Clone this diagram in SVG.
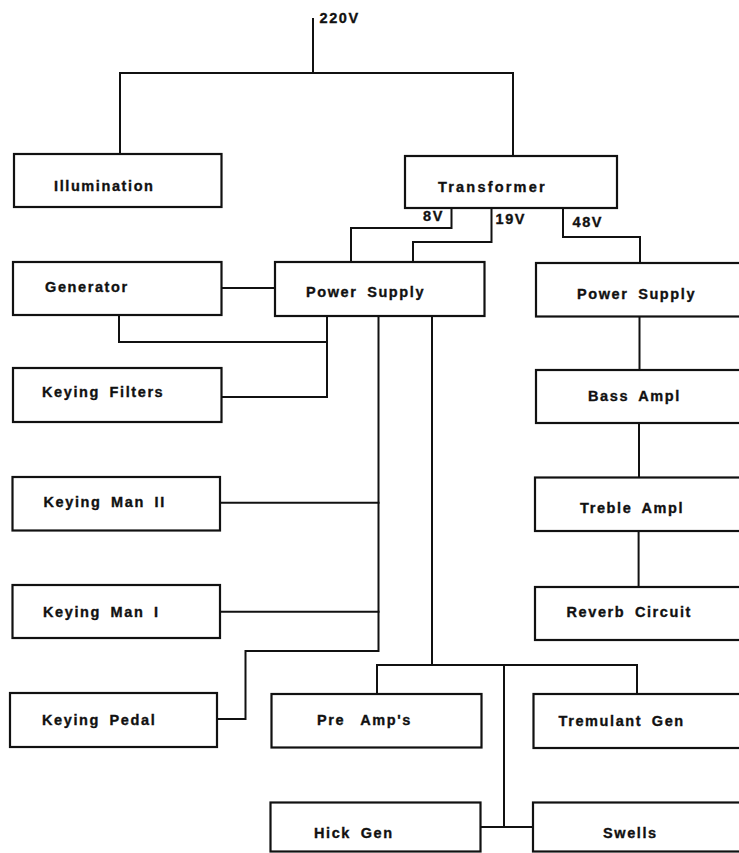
<svg xmlns="http://www.w3.org/2000/svg" width="739" height="853" viewBox="0 0 739 853">
<style>
.box{fill:#fff;stroke:#111;stroke-width:2.2}
.wire{fill:none;stroke:#111;stroke-width:2;stroke-linejoin:miter;stroke-linecap:square}
.lbl{font-family:"Liberation Sans",Arial,sans-serif;font-weight:bold;font-size:14.5px;letter-spacing:1.6px;word-spacing:4px;fill:#111;stroke:#111;stroke-width:0.35}
</style>
<rect width="739" height="853" fill="#fff"/>
<g id="connectors">
<path class="wire" d="M313,19 V73"/>
<path class="wire" d="M120,155 V73 H513 V156"/>
<path class="wire" d="M451.5,208 V228 H351 V262"/>
<path class="wire" d="M491.5,208 V242 H413 V262"/>
<path class="wire" d="M563,208 V237 H640 V263"/>
<path class="wire" d="M221.5,288 H275"/>
<path class="wire" d="M119,315 V342 H327"/>
<path class="wire" d="M327,316 V397 H221.5"/>
<path class="wire" d="M378.5,316 V651 H245.5 V719 H217"/>
<path class="wire" d="M220,502.7 H378.5"/>
<path class="wire" d="M220,611.7 H378.5"/>
<path class="wire" d="M432,316 V665"/>
<path class="wire" d="M377,694 V665 H637 V694"/>
<path class="wire" d="M504,665 V827"/>
<path class="wire" d="M480.5,827 H533"/>
<path class="wire" d="M639.5,316.5 V370"/>
<path class="wire" d="M639,423 V477.5"/>
<path class="wire" d="M638.6,531 V587"/>
</g>
<g id="label-220V"><text class="lbl" x="319.5" y="23">220V</text></g>
<g id="label-8V"><text class="lbl" x="423" y="221">8V</text></g>
<g id="label-19V"><text class="lbl" x="495.5" y="224">19V</text></g>
<g id="label-48V"><text class="lbl" x="572.5" y="227">48V</text></g>
<g id="illumination"><rect class="box" x="14" y="154" width="207.5" height="53"/><text class="lbl" x="54" y="191">Illumination</text></g>
<g id="transformer"><rect class="box" x="405" y="156" width="212" height="52"/><text class="lbl" x="438" y="192" style="letter-spacing:2.2px">Transformer</text></g>
<g id="generator"><rect class="box" x="13" y="262" width="208.5" height="53"/><text class="lbl" x="45" y="291.5">Generator</text></g>
<g id="power-supply-1"><rect class="box" x="275" y="262" width="209.5" height="54"/><text class="lbl" x="306" y="297">Power Supply</text></g>
<g id="power-supply-2"><rect class="box" x="536" y="263" width="209" height="53.5"/><text class="lbl" x="577" y="299">Power Supply</text></g>
<g id="keying-filters"><rect class="box" x="13" y="368" width="208.5" height="54"/><text class="lbl" x="42" y="397">Keying Filters</text></g>
<g id="bass-ampl"><rect class="box" x="536" y="370" width="209" height="53"/><text class="lbl" x="588" y="401">Bass Ampl</text></g>
<g id="keying-man-2"><rect class="box" x="12.5" y="477" width="207.5" height="53.5"/><text class="lbl" x="43.5" y="507">Keying Man II</text></g>
<g id="treble-ampl"><rect class="box" x="535" y="477.5" width="210" height="53.5"/><text class="lbl" x="580" y="513">Treble Ampl</text></g>
<g id="keying-man-1"><rect class="box" x="12.5" y="585" width="207.5" height="53"/><text class="lbl" x="43" y="617">Keying Man I</text></g>
<g id="reverb-circuit"><rect class="box" x="535" y="587" width="210" height="53"/><text class="lbl" x="566.5" y="617">Reverb Circuit</text></g>
<g id="keying-pedal"><rect class="box" x="10" y="693" width="207" height="54"/><text class="lbl" x="42" y="725">Keying Pedal</text></g>
<g id="pre-amps"><rect class="box" x="271.5" y="694" width="210" height="53.5"/><text class="lbl" x="317" y="725" style="word-spacing:10px">Pre Amp's</text></g>
<g id="tremulant-gen"><rect class="box" x="533.5" y="694" width="211.5" height="54"/><text class="lbl" x="558.5" y="726">Tremulant Gen</text></g>
<g id="hick-gen"><rect class="box" x="270.5" y="802.5" width="210" height="49"/><text class="lbl" x="314" y="838">Hick Gen</text></g>
<g id="swells"><rect class="box" x="533" y="802.5" width="212" height="49"/><text class="lbl" x="603" y="838">Swells</text></g>
</svg>
